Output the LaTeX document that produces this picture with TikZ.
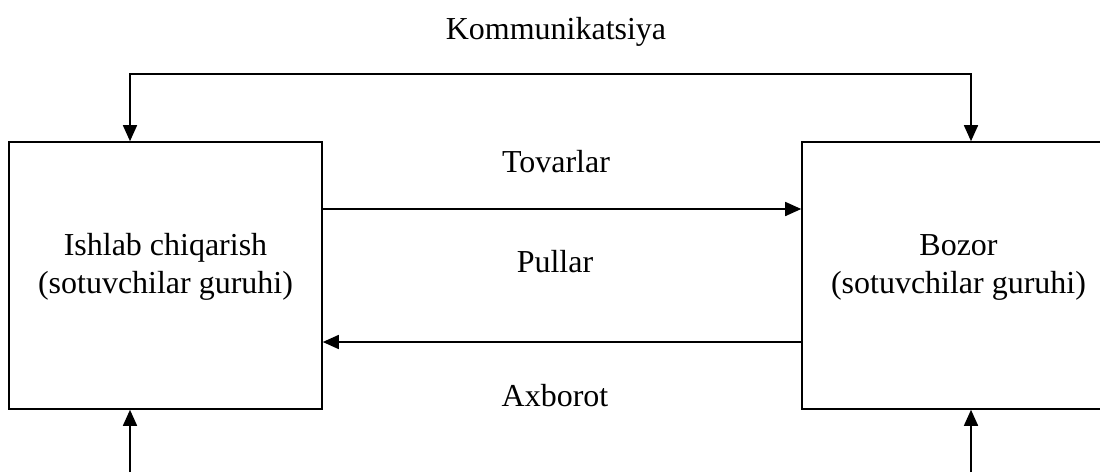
\documentclass[tikz,border=0pt]{standalone}
\usepackage{fontspec}
\setmainfont{Liberation Serif}
\usetikzlibrary{arrows.meta}

\tikzset{
  blok/.style={draw, line width=0.9pt, minimum width=6.26cm, minimum height=5.34cm, inner sep=0pt},
  yozuv/.style={font=\fontsize{18.2}{21.6}\selectfont, align=center},
  oqim/.style={line width=0.9pt, -{Triangle[length=0.32cm, width=0.28cm]}},
}

\begin{document}
\begin{tikzpicture}
        \useasboundingbox (0,0) rectangle (22,-9.44);
        \clip (0,0) rectangle (22,-9.44);
        % bloklar
        \node[blok, label={[yozuv, yshift=0.17cm]center:Ishlab chiqarish\\(sotuvchilar guruhi)}] (ishlab) at (3.31,-5.51) {};
        \node[blok, label={[yozuv, yshift=0.17cm]center:Bozor\\(sotuvchilar guruhi)}] (bozor) at (19.17,-5.51) {};
        % yozuvlar
        \node[yozuv] (komm) at (11.12,-0.64) {Kommunikatsiya};
        \node[yozuv] (tovar) at (11.12,-3.24) {Tovarlar};
        \node[yozuv] (pul) at (11.1,-5.24) {Pullar};
        \node[yozuv] (axb) at (11.1,-7.92) {Axborot};
        % tayanch nuqtalar
        \coordinate (kchap) at (2.6,-1.48);
        \coordinate (kong) at (19.42,-1.48);
        \coordinate (pchap) at (2.6,-9.44);
        \coordinate (pong) at (19.42,-9.44);
        % strelkalar
        \draw[oqim, {Triangle[length=0.32cm, width=0.28cm]}-{Triangle[length=0.32cm, width=0.28cm]}] (ishlab.north -| kchap) -- (kchap) -- (kong) -- (bozor.north -| kong);
        \draw[oqim] (ishlab.east |- 0,-4.18) -- (bozor.west |- 0,-4.18);
        \draw[oqim] (bozor.west |- 0,-6.84) -- (ishlab.east |- 0,-6.84);
        \draw[oqim] (pchap) -- (ishlab.south -| pchap);
        \draw[oqim] (pong) -- (bozor.south -| pong);
    \end{tikzpicture}
\end{document}
